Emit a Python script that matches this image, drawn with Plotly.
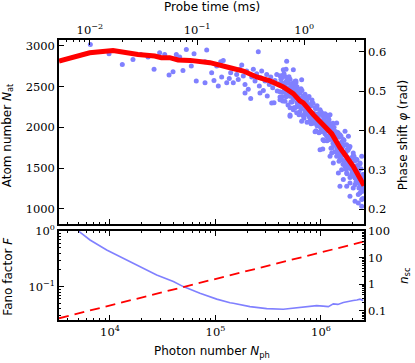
import numpy as np
import plotly.graph_objects as go

# ── Data ─────────────────────────────────────────────────────────────────────

# moving average of atom number vs photon number (red line, top panel)
avg_nph = [3289, 6427, 10690, 13800, 18450, 26550, 30690, 36810, 44160, 57410,
           68390, 88720, 137400, 183700, 246000, 328900, 439500, 547000, 632400,
           680800, 845300, 1052000, 1265000, 1514000, 1629000, 2023000, 2559000]
avg_nat = [2813, 2914, 2942, 2914, 2893, 2874, 2853, 2853, 2825, 2820,
           2813, 2792, 2730, 2690, 2617, 2568, 2494, 2412, 2323,
           2298, 2155, 2032, 1922, 1750, 1686, 1521, 1285]

# single shots (blue dots, top panel): log10 of photon number, atom number
shot_log_nph = [
    3.814, 3.991, 4.117, 4.218, 4.291, 4.361, 4.418, 4.471, 4.519, 4.560,
    4.598, 4.629, 4.661, 4.692, 4.724, 4.771, 4.797, 4.818, 4.917, 4.901,
    4.901, 4.964, 4.986, 5.012, 5.027, 5.050, 5.059, 5.074, 5.107, 5.131,
    5.144, 5.169, 5.201, 5.216, 5.232, 5.249, 5.264, 5.280, 5.296, 5.311,
    5.334, 5.344, 5.359, 5.375, 5.391, 5.406, 5.416, 5.429, 5.438, 5.454,
    5.470, 5.486, 5.491, 5.510, 5.524, 5.543, 5.555, 5.564, 5.581, 5.586,
    5.605, 5.612, 5.628, 5.637, 5.659, 5.669, 5.675, 5.691, 5.707, 5.723,
    5.738, 5.763, 5.770, 5.785, 5.707, 5.643, 5.659, 5.628, 5.691, 5.723,
    5.754, 5.707, 5.770, 5.785, 5.738, 5.801, 5.817, 5.833, 5.849, 5.865,
    5.880, 5.896, 5.912, 5.927, 5.943, 5.959, 5.975, 5.991, 6.007, 6.022,
    6.038, 6.054, 6.070, 6.086, 6.102, 6.117, 6.133, 6.149, 6.165, 6.180,
    6.196, 6.212, 6.228, 6.244, 6.260, 6.275, 6.017, 5.675, 5.991, 6.117,
    6.165, 6.275, 6.323, 6.354, 6.370, 6.386, 6.212, 6.244, 6.306, 6.338,
    6.401, 6.401, 6.354, 6.370, 6.386, 6.338, 6.306, 6.260, 6.180, 6.149,
    6.102, 6.244, 6.291, 6.228, 6.196, 6.275, 6.323, 6.386, 6.354, 5.738,
    5.817, 5.280, 5.422, 5.533, 5.707, 5.817, 6.086, 6.180,
    5.612, 5.612, 5.612, 5.631, 5.631, 5.650, 5.650, 5.669, 5.669, 5.688,
    5.688, 5.707, 5.707, 5.726, 5.726, 5.744, 5.744, 5.763, 5.763, 5.782,
    5.782, 5.801, 5.801, 5.820, 5.820, 5.839, 5.839, 5.858, 5.858, 5.877,
    5.877, 5.896, 5.896, 5.915, 5.915, 5.934, 5.934, 5.953, 5.953, 5.972,
    5.972, 5.991, 5.991, 6.010, 6.010, 6.029, 6.029, 6.048, 6.048, 6.067,
    6.067, 6.086, 6.086, 6.105, 6.105, 6.124, 6.124, 6.143, 6.143, 6.162,
    6.162, 6.181, 6.181, 6.199, 6.199, 6.218, 6.218, 6.237, 6.237, 6.256,
    6.256, 6.275, 6.275, 6.294, 6.294, 6.313, 6.313, 6.332, 6.332, 6.351,
    6.351, 6.370, 6.370, 6.389, 6.389, 6.404, 6.404,
    5.621, 5.621, 5.640, 5.640, 5.659, 5.659, 5.678, 5.678, 5.697, 5.697,
    5.716, 5.716, 5.735, 5.735,
    5.754, 5.754, 5.754, 5.773, 5.773, 5.773, 5.792, 5.792, 5.792,
    5.811, 5.811, 5.811, 5.830, 5.830, 5.830, 5.849, 5.849, 5.849,
    5.868, 5.868, 5.868, 5.887, 5.887, 5.887, 5.906, 5.906, 5.906,
    5.925, 5.925, 5.925, 5.944, 5.944, 5.944, 5.963, 5.963, 5.963,
    5.981, 5.981, 5.981, 6.000, 6.000, 6.000, 6.019, 6.019, 6.019,
    6.038, 6.038, 6.038, 6.057, 6.057, 6.057, 6.076, 6.076, 6.076,
    6.095, 6.095, 6.095, 6.114, 6.114, 6.114, 6.133, 6.133, 6.133,
    6.152, 6.152, 6.152, 6.171, 6.171, 6.171, 6.190, 6.190, 6.190,
    6.209, 6.209, 6.209, 6.228, 6.228, 6.228, 6.247, 6.247, 6.247,
    6.266, 6.266, 6.266, 6.285, 6.285, 6.285, 6.304, 6.304, 6.304,
    6.322, 6.322, 6.322, 6.341, 6.341, 6.341, 6.360, 6.360, 6.360,
    6.379, 6.379, 6.379, 6.398, 6.398, 6.398,
]
shot_nat = [
    3016, 2902, 2771, 2832, 2893, 2862, 2710, 2914, 2893, 2641,
    2681, 2893, 2862, 2697, 2955, 2751, 2902, 2568, 2947, 2804,
    2547, 2669, 2575, 2751, 2506, 2804, 2617, 2820, 2547, 2599,
    2669, 2547, 2648, 2587, 2710, 2764, 2629, 2526, 2690, 2465,
    2354, 2617, 2710, 2568, 2657, 2927, 2506, 2608, 2690, 2452,
    2568, 2648, 2384, 2526, 2617, 2486, 2302, 2575, 2648, 2445,
    2535, 2372, 2608, 2323, 2486, 2710, 2403, 2547, 2241, 2465,
    2342, 2568, 2179, 2281, 2151, 2706, 2624, 2522, 2543, 2482,
    2563, 2379, 2440, 2339, 2216, 2420, 2256, 2379, 2176, 2318,
    2237, 2114, 2298, 2176, 2053, 2237, 2114, 2011, 2176, 1950,
    2073, 1889, 2114, 2155, 1992, 1849, 1950, 2053, 1808, 1910,
    1747, 1849, 1950, 1787, 1889, 1766, 1735, 2808, 1726, 1563,
    1441, 1154, 1093, 1073, 1196, 1031, 1359, 1277, 1257, 1318,
    1236, 1399, 1441, 1563, 1644, 1604, 1686, 1766, 1604, 1644,
    1686, 1441, 1481, 1521, 1481, 1318, 1379, 1114, 1175, 2706,
    2584, 2421, 2421, 2298, 2134, 2073, 1644, 1276,
    2632, 2436, 2338, 2547, 2375, 2657, 2449, 2375, 2559, 2482,
    2274, 2590, 2394, 2310, 2482, 2510, 2241, 2375, 2547, 2277,
    2387, 2424, 2191, 2267, 2451, 2111, 2343, 2271, 2161, 2356,
    2184, 2069, 2277, 2334, 2150, 2059, 2169, 2228, 1959, 2044,
    2167, 1946, 2216, 2081, 1971, 1836, 2118, 1971, 2155, 1861,
    2020, 2044, 1885, 1750, 1922, 2002, 1781, 1787, 1897, 1652,
    1934, 1787, 1689, 1603, 1824, 1659, 1842, 1487, 1695, 1524,
    1720, 1383, 1591, 1628, 1432, 1450, 1646, 1328, 1524, 1536,
    1401, 1297, 1554, 1383, 1212, 1420, 1260,
    2590, 2369, 2430, 2639, 2320, 2516, 2576, 2392, 2436, 2620,
    2309, 2505, 2544, 2361,
    2461, 2363, 2241, 2498, 2302, 2253, 2363, 2449, 2155,
    2228, 2473, 2302, 2367, 2269, 2146, 2406, 2210, 2161,
    2271, 2357, 2063, 2133, 2378, 2206, 2263, 2165, 2042,
    2294, 2098, 2049, 2155, 2241, 1946, 2020, 2265, 2093,
    2155, 2057, 1934, 2191, 1995, 1946, 2057, 2142, 1848,
    1922, 2167, 1995, 2057, 1959, 1836, 2093, 1897, 1848,
    1953, 2038, 1744, 1803, 2048, 1877, 1922, 1824, 1701,
    1940, 1744, 1695, 1793, 1879, 1585, 1646, 1891, 1720,
    1766, 1668, 1546, 1787, 1591, 1542, 1640, 1726, 1432,
    1497, 1742, 1570, 1622, 1524, 1401, 1649, 1453, 1404,
    1506, 1591, 1297, 1358, 1603, 1432, 1477, 1379, 1257,
    1493, 1297, 1248, 1334, 1420, 1126,
]

# Fano factor (blue line, bottom panel)
fano_log_nph = [3.700, 3.811, 3.969, 4.127, 4.285, 4.443, 4.601, 4.695, 4.853,
                5.012, 5.138, 5.169, 5.327, 5.486, 5.643, 5.720, 5.801, 5.880,
                5.959, 6.020, 6.070, 6.117, 6.160, 6.212, 6.260, 6.306, 6.340,
                6.370, 6.401]
fano_log_f = [0.0, -0.162, -0.341, -0.490, -0.641, -0.790, -0.910, -1.000, -1.120,
              -1.225, -1.290, -1.298, -1.359, -1.395, -1.406, -1.392, -1.370, -1.355,
              -1.341, -1.350, -1.359, -1.311, -1.320, -1.287, -1.275, -1.251, -1.240,
              -1.226, -1.251]

# scattered photons per atom (red dashed line, bottom panel)
nsc_nph = [3289, 2559000]
nsc_val = [0.053, 40.0]

# secondary scales
probe_range_ms = [0.00515, 3.61]
phase_range = [0.162, 0.630]

BLUE = "#8080ff"
RED = "#ff0000"
SERIF = "DejaVu Serif"
SANS = "DejaVu Sans"

fig = go.Figure()

fig.add_trace(go.Scatter(
    x=10 ** np.array(shot_log_nph), y=shot_nat, mode="markers",
    marker=dict(color=BLUE, size=5, line=dict(width=0)),
    xaxis="x2", yaxis="y2", showlegend=False, hoverinfo="skip",
))
fig.add_trace(go.Scatter(
    x=avg_nph, y=avg_nat, mode="lines", line=dict(color=RED, width=5),
    xaxis="x2", yaxis="y2", showlegend=False, hoverinfo="skip",
))
# invisible helpers so the probe-time and phase-shift axes get drawn
fig.add_trace(go.Scatter(
    x=probe_range_ms, y=phase_range, mode="lines", line=dict(width=0),
    opacity=0, xaxis="x3", yaxis="y3", showlegend=False, hoverinfo="skip",
))
fig.add_trace(go.Scatter(
    x=10 ** np.array(fano_log_nph), y=10 ** np.array(fano_log_f), mode="lines",
    line=dict(color=BLUE, width=1.6), xaxis="x", yaxis="y", showlegend=False,
    hoverinfo="skip",
))
fig.add_trace(go.Scatter(
    x=nsc_nph, y=nsc_val, mode="lines",
    line=dict(color=RED, width=1.8, dash="10px,6px"),
    xaxis="x", yaxis="y4", showlegend=False, hoverinfo="skip",
))

tick_font = dict(family=SERIF, size=11.5, color="black")
title_font = dict(family=SANS, size=12, color="black")
frame = dict(showline=True, linecolor="black", linewidth=1.5, showgrid=False,
             zeroline=False, ticks="inside", tickcolor="black", tickwidth=1,
             tickfont=tick_font, automargin=False)
minor = dict(ticks="inside", ticklen=2.5, tickcolor="black", tickwidth=1,
             dtick="D1", showgrid=False)

dec_text = {1e4: "10<sup>4</sup>", 1e5: "10<sup>5</sup>", 1e6: "10<sup>6</sup>"}

fig.update_layout(
    width=415, height=363,
    margin=dict(l=59, r=51, t=40, b=43),
    paper_bgcolor="white", plot_bgcolor="white",
    xaxis=dict(**frame, type="log", range=[3.517, 6.408], anchor="y",
               tickvals=list(dec_text), ticktext=list(dec_text.values()),
               ticklen=5, minor=minor, mirror="ticks", domain=[0, 1]),
    xaxis2=dict(**frame, type="log", range=[3.517, 6.408], anchor="y2",
                tickvals=list(dec_text), showticklabels=False,
                ticklen=5, minor=minor, domain=[0, 1]),
    xaxis3=dict(**frame, type="log", range=[-2.288, 0.558], overlaying="x2",
                side="top", anchor="y2",
                tickvals=[0.01, 0.1, 1],
                ticktext=["10<sup>−2</sup>", "10<sup>−1</sup>", "10<sup>0</sup>"],
                ticklen=5, minor=minor),
    yaxis=dict(**frame, type="log", range=[-1.6, 0], domain=[0, 0.318],
               anchor="x", tickvals=[0.1, 1],
               ticktext=["10<sup>−1</sup>", "10<sup>0</sup>"],
               ticklen=5, minor=minor),
    yaxis4=dict(**frame, type="log", range=[-1.34, 2.0], overlaying="y",
                side="right", anchor="x", tickvals=[0.1, 1, 10, 100],
                ticktext=["0.1", "1", "10", "100"], ticklen=5, minor=minor),
    yaxis2=dict(**frame, range=[815, 3070], domain=[0.343, 1], anchor="x2",
                tickvals=[1000, 1500, 2000, 2500, 3000], ticklen=5),
    yaxis3=dict(**frame, range=phase_range, overlaying="y2", side="right",
                anchor="x2", tickvals=[0.2, 0.3, 0.4, 0.5, 0.6],
                ticktext=["0.2", "0.3", "0.4", "0.5", "0.6"], ticklen=5),
)

# axis titles placed as paper annotations (plot area: x 59..364, y 40..320 px)
titles = [
    ("Probe time (ms)", 0.5, 1.118, 0),
    ("Photon number <i>N</i><sub>ph</sub>", 0.5, -0.114, 0),
    ("Atom number <i>N</i><sub>at</sub>", -0.167, 0.66, -90),
    ("Fano factor <i>F</i>", -0.167, 0.155, -90),
    ("Phase shift <i>φ</i> (rad)", 1.128, 0.66, -90),
    ("<i>n</i><sub>sc</sub>", 1.134, 0.16, -90),
]
for text, x, y, angle in titles:
    fig.add_annotation(text=text, x=x, y=y, xref="paper", yref="paper",
                       xanchor="center", yanchor="middle", textangle=angle,
                       showarrow=False, font=title_font)

# the page body has a default 8px margin; drop it so the figure sits at 0,0
fig.write_html("out.html", config={"displayModeBar": False},
               post_script="document.body.style.margin='0';")
